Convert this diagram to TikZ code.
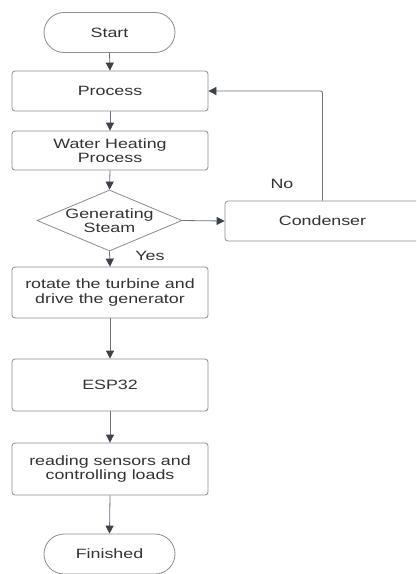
\documentclass[tikz,border=0pt]{standalone}
\usepackage{fontspec}
\setmainfont{Liberation Sans}[FakeStretch=1.32]
\usetikzlibrary{shapes.geometric,shapes.misc,arrows.meta}
\definecolor{edgegrey}{HTML}{8C8C8C}
\definecolor{linegrey}{HTML}{6E7378}
\definecolor{tipdark}{HTML}{3C424A}
\definecolor{txt}{HTML}{333333}
\begin{document}
\begin{tikzpicture}[x=1pt,y=-1pt,
  every node/.style={font=\fontsize{13.5}{14.5}\selectfont, text=txt, align=center},
  boxstyle/.style={draw=edgegrey, line width=0.8pt, rounded corners=3pt, minimum width=196pt, inner sep=0pt},
  term/.style={draw=edgegrey, line width=0.8pt, rounded rectangle, minimum width=131pt, minimum height=40pt, inner sep=0pt},
  decision/.style={draw=edgegrey, line width=0.8pt, diamond, minimum width=145pt, minimum height=61pt, inner sep=0pt},
  flow/.style={draw=linegrey, line width=0.8pt, -{Triangle[length=8pt,width=8pt,fill=tipdark,color=tipdark]}},
  lbl/.style={font=\fontsize{13.5}{14.5}\selectfont}
]
\clip (0,0) rectangle (416,574);
\useasboundingbox (0,0) rectangle (416,574);
\fill[white] (0,0) rectangle (416,574);

\node[term] (start) at (109.5,32.5) {Start};
\node[boxstyle, minimum height=40pt] (proc) at (110,91) {Process};
\node[boxstyle, minimum height=39pt] (heat) at (110,150.5) {Water Heating\\Process};
\node[decision] (dec) at (109.5,220.5) {};
\node (dectext) at (109.5,220.5) {Generating\\Steam};
\node[boxstyle, minimum width=195pt, minimum height=40pt] (cond) at (322.5,221) {Condenser};
\node[boxstyle, minimum height=51pt] (rot) at (110,292.5) {rotate the turbine and\\drive the generator};
\node[boxstyle, minimum height=52pt] (esp) at (110,385) {ESP32};
\node[boxstyle, minimum height=52pt] (read) at (110,469) {reading sensors and\\controlling loads};
\node[term] (fin) at (109.5,554) {Finished};

\node[lbl] (no) at (282,184) {No};
\node[lbl] (yes) at (150,256) {Yes};

\draw[flow] (start.south) -- (proc.north);
\draw[flow] (proc.south) -- (heat.north);
\draw[flow] (heat.south) -- (dec.north);
\draw[flow] (dec.south) -- (rot.north);
\draw[flow] (rot.south) -- (esp.north);
\draw[flow] (esp.south) -- (read.north);
\draw[flow] (read.south) -- (fin.north);
\draw[flow] (dec.east) -- (cond.west);
\draw[flow, rounded corners=2pt] (cond.north) |- (proc.east);
\end{tikzpicture}
\end{document}
